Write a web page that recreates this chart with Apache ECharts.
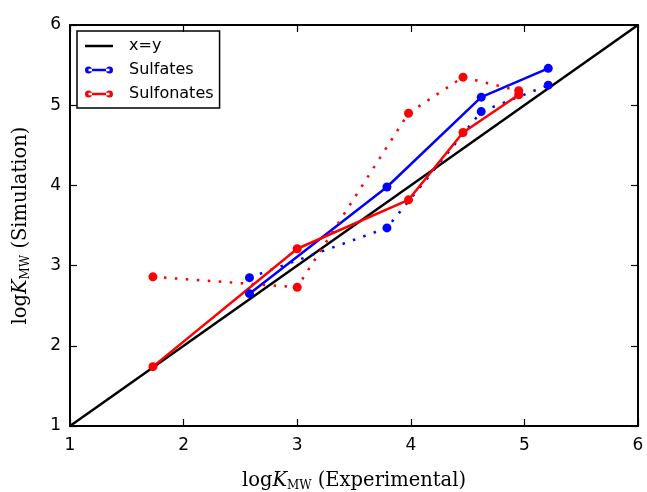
<!DOCTYPE html>
<html>
<head>
<meta charset="utf-8">
<script src="https://cdn.jsdelivr.net/npm/echarts@6/dist/echarts.min.js"></script>
<style>
  html, body { margin: 0; padding: 0; background: #fff; }
  #chartmain { width: 647px; height: 492px; }
</style>
</head>
<body>
<div id="chartmain"></div>
<script>
// values
var diagonal = [1, 6];
var sulfateExp = [2.58, 3.79, 4.62, 5.21];
var sulfateSim = [2.65, 3.98, 5.10, 5.46];
var sulfateSimDot = [2.85, 3.47, 4.92, 5.25];
var sulfonateExp = [1.73, 3.00, 3.98, 4.46, 4.95];
var sulfonateSim = [1.74, 3.21, 3.82, 4.66, 5.13];
var sulfonateSimDot = [2.86, 2.73, 4.90, 5.35, 5.18];

function pairs(xs, ys) {
	var out = [];
	for (var i = 0; i < xs.length; i++) {
		out.push([xs[i], ys[i]]);
	}
	return out;
}

var dotLineIcon = 'path://M0,3.5a3.5,3.5 0 1,0 7,0a3.5,3.5 0 1,0 -7,0z M21,3.5a3.5,3.5 0 1,0 7,0a3.5,3.5 0 1,0 -7,0z M3.5,2.25h21v2.5h-21z';
var plainLineIcon = 'path://M0,0h28v2.5h-28z';

var serif = '"DejaVu Serif", "Liberation Serif", serif';
var titleRich = {
	r : { fontFamily : serif, fontSize : 19.5, color : '#000' },
	k : { fontFamily : serif, fontSize : 19.5, fontStyle : 'italic', color : '#000' },
	s : { fontFamily : serif, fontSize : 12, color : '#000', padding : [ 10, 0, 0, 0 ] }
};

var frameLine = { show : true, lineStyle : { color : '#000', width : 2 } };
var frameTick = { show : true, inside : true, length : 7, lineStyle : { color : '#000', width : 1.2 } };

function mark(name, xs, ys, color, dotted) {
	return {
		name : name,
		type : 'line',
		data : pairs(xs, ys),
		symbol : 'circle',
		symbolSize : 9,
		color : color,
		itemStyle : { color : color, borderWidth : 0 },
		lineStyle : dotted ? { color : color, width : 2.5, type : [ 2.5, 8.5 ] }
				: { color : color, width : 2.5 }
	};
}

var option = {
	animation : false,
	backgroundColor : '#fff',
	grid : {
		left : 70,
		right : 9,
		top : 25,
		bottom : 66,
		outerBoundsMode : 'none',
		containLabel : false
	},
	legend : {
		left : 77,
		top : 31,
		orient : 'vertical',
		selectedMode : false,
		borderColor : '#000',
		borderWidth : 1.5,
		borderRadius : 0,
		padding : [ 7, 6, 6, 8 ],
		itemWidth : 28,
		itemHeight : 7,
		itemGap : 8,
		textStyle : {
			fontFamily : '"DejaVu Sans"',
			fontSize : 16,
			color : '#000',
			padding : [ 0, 0, 0, 11 ]
		},
		data : [ {
			name : 'x=y',
			icon : plainLineIcon
		}, {
			name : 'Sulfates',
			icon : dotLineIcon
		}, {
			name : 'Sulfonates',
			icon : dotLineIcon
		} ]
	},
	xAxis : [ {
		type : 'value',
		min : 1,
		max : 6,
		interval : 1,
		position : 'bottom',
		axisLine : frameLine,
		axisTick : frameTick,
		splitLine : { show : false },
		axisLabel : {
			margin : 11,
			fontFamily : '"DejaVu Sans"',
			fontSize : 17,
			color : '#000'
		},
		name : '{r|log}{k|K}{s|MW}{r| (Experimental)}',
		nameLocation : 'middle',
		nameGap : 44,
		nameTextStyle : { rich : titleRich }
	}, {
		type : 'value',
		min : 1,
		max : 6,
		interval : 1,
		position : 'top',
		axisLine : frameLine,
		axisTick : frameTick,
		splitLine : { show : false },
		axisLabel : { show : false }
	} ],
	yAxis : [ {
		type : 'value',
		min : 1,
		max : 6,
		interval : 1,
		position : 'left',
		axisLine : frameLine,
		axisTick : frameTick,
		splitLine : { show : false },
		axisLabel : {
			margin : 9,
			fontFamily : '"DejaVu Sans"',
			fontSize : 17,
			color : '#000'
		},
		name : '{r|log}{k|K}{s|MW}{r| (Simulation)}',
		nameLocation : 'middle',
		nameGap : 38,
		nameTextStyle : { rich : titleRich }
	}, {
		type : 'value',
		min : 1,
		max : 6,
		interval : 1,
		position : 'right',
		axisLine : frameLine,
		axisTick : frameTick,
		splitLine : { show : false },
		axisLabel : { show : false }
	} ],
	series : [ {
		name : 'x=y',
		type : 'line',
		data : pairs(diagonal, diagonal),
		symbol : 'none',
		color : '#000',
		lineStyle : { color : '#000', width : 2.5 }
	},
		mark('Sulfates', sulfateExp, sulfateSim, '#0000ff', false),
		mark('Sulfates (dotted)', sulfateExp, sulfateSimDot, '#0000ff', true),
		mark('Sulfonates', sulfonateExp, sulfonateSim, '#ff0000', false),
		mark('Sulfonates (dotted)', sulfonateExp, sulfonateSimDot, '#ff0000', true)
	]
};

var myChart = echarts.init(document.getElementById('chartmain'));
myChart.setOption(option);
</script>
</body>
</html>
